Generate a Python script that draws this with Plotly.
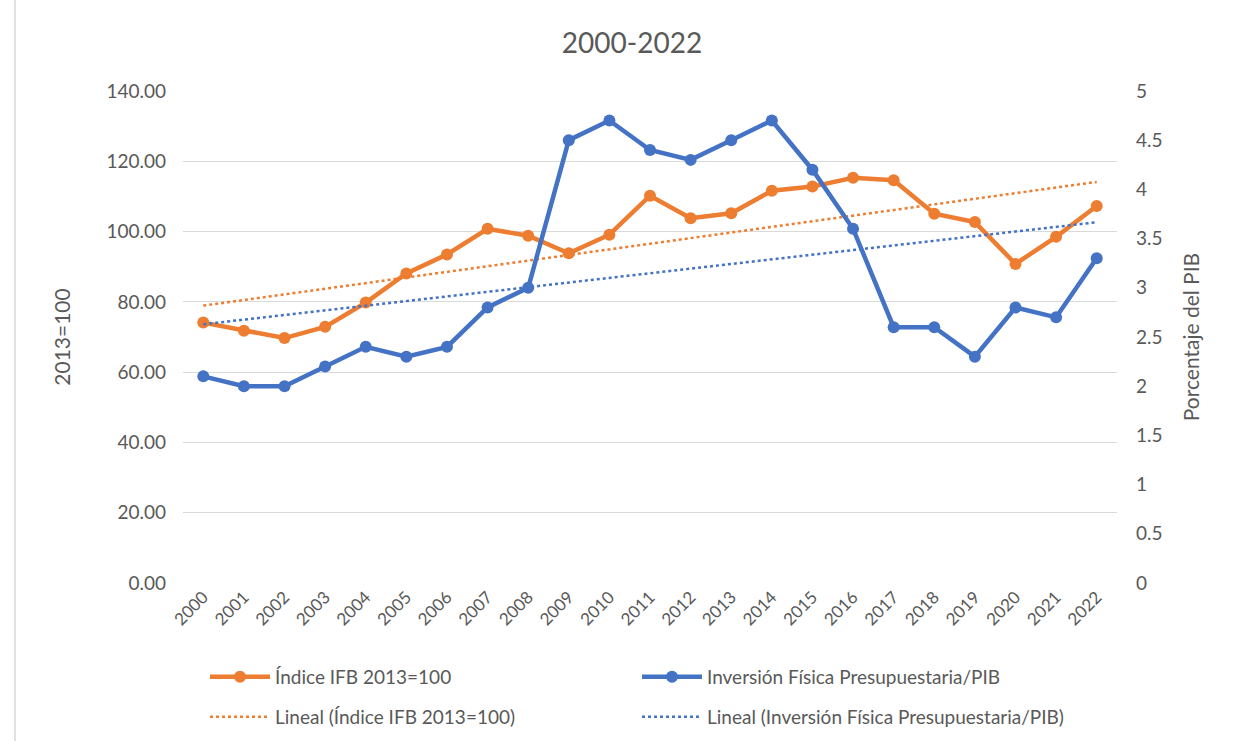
import numpy as np
import plotly.graph_objects as go

# Years on the category axis
years = [str(y) for y in range(2000, 2023)]

# Índice IFB (2013=100), left axis
indice_ifb = [74.1, 71.8, 69.7, 72.9, 79.8, 88.1, 93.5, 100.8, 98.8, 93.8, 99.1,
              110.2, 103.8, 105.2, 111.6, 112.8, 115.3, 114.6, 105.1, 102.7, 90.8,
              98.5, 107.3]

# Inversión física presupuestaria como % del PIB, right axis
inversion_pib = [2.1, 2.0, 2.0, 2.2, 2.4, 2.3, 2.4, 2.8, 3.0, 4.5, 4.7,
                 4.4, 4.3, 4.5, 4.7, 4.2, 3.6, 2.6, 2.6, 2.3, 2.8,
                 2.7, 3.3]

left_ticks = [0, 20, 40, 60, 80, 100, 120, 140]
right_ticks = [0, 0.5, 1, 1.5, 2, 2.5, 3, 3.5, 4, 4.5, 5]

ORANGE = "#ED7D31"
BLUE = "#4472C4"
TEXT = "#595959"
GRID = "#D9D9D9"
FONT = "Lato"

# Linear trend lines (least squares over the year index)
idx = np.arange(len(years))
a1, b1 = np.polyfit(idx, indice_ifb, 1)
a2, b2 = np.polyfit(idx, inversion_pib, 1)
trend_ifb = a1 * idx + b1
trend_pib = a2 * idx + b2

fig = go.Figure()

fig.add_trace(go.Scatter(
    x=years, y=indice_ifb, name="Índice IFB 2013=100",
    mode="lines+markers",
    line=dict(color=ORANGE, width=4.5),
    marker=dict(color=ORANGE, size=12),
    yaxis="y", legend="legend",
))
fig.add_trace(go.Scatter(
    x=years, y=inversion_pib, name="Inversión Física Presupuestaria/PIB",
    mode="lines+markers",
    line=dict(color=BLUE, width=4.5),
    marker=dict(color=BLUE, size=12),
    yaxis="y2", legend="legend",
))
fig.add_trace(go.Scatter(
    x=years, y=trend_ifb, name="Lineal (Índice IFB 2013=100)",
    mode="lines",
    line=dict(color=ORANGE, width=2.5, dash="dot"),
    yaxis="y", legend="legend2",
))
fig.add_trace(go.Scatter(
    x=years, y=trend_pib, name="Lineal (Inversión Física Presupuestaria/PIB)",
    mode="lines",
    line=dict(color=BLUE, width=2.5, dash="dot"),
    yaxis="y2", legend="legend2",
))

plot_left, plot_right, plot_top, plot_bottom = 183, 1117, 91, 583
plot_w = plot_right - plot_left
plot_h = plot_bottom - plot_top

def legend_row(y_px):
    return dict(
        orientation="h",
        x=(205 - plot_left) / plot_w, xanchor="left",
        y=(plot_bottom - y_px) / plot_h, yanchor="middle",
        entrywidth=357, entrywidthmode="pixels",
        itemwidth=60,
        font=dict(family=FONT, size=19, color=TEXT),
        bgcolor="rgba(0,0,0,0)",
    )

fig.update_layout(
    width=1249, height=741,
    margin=dict(l=plot_left, r=1249 - plot_right, t=plot_top, b=741 - plot_bottom,
                autoexpand=False),
    paper_bgcolor="white", plot_bgcolor="white",
    font=dict(family=FONT, color=TEXT, size=18),
    title=dict(text="2000-2022", x=0.506, xanchor="center", y=0.942, yanchor="middle",
               font=dict(family=FONT, size=28, color=TEXT)),
    xaxis=dict(
        type="category", categoryorder="array", categoryarray=years,
        range=[-0.5, len(years) - 0.5],
        tickangle=-45, tickfont=dict(size=17, color=TEXT),
        showgrid=False, showline=False, zeroline=False, ticks="",
        automargin=False,
    ),
    yaxis=dict(
        range=[0, 140], tickvals=left_ticks, tickformat=".2f",
        tickfont=dict(size=19, color=TEXT),
        showgrid=True, gridcolor=GRID, gridwidth=1.3,
        zeroline=False, showline=False, ticks="",
        ticklabelstandoff=16, automargin=False,
        title=dict(text="2013=100", standoff=30, font=dict(size=21, color=TEXT)),
    ),
    yaxis2=dict(
        range=[0, 5], tickvals=right_ticks, overlaying="y", side="right",
        tickfont=dict(size=19, color=TEXT),
        showgrid=False, zeroline=False, showline=False, ticks="",
        ticklabelstandoff=18, automargin=False,
        title=dict(text="Porcentaje del PIB", standoff=22, font=dict(size=21, color=TEXT)),
    ),
    legend=legend_row(677),
    legend2=legend_row(717),
    showlegend=True,
    shapes=[dict(type="line", xref="paper", yref="paper",
                 x0=(15 - plot_left) / plot_w, x1=(15 - plot_left) / plot_w,
                 y0=-0.4, y1=1.2,
                 line=dict(color=GRID, width=1.5))],
)

fig.write_html("out.html")
